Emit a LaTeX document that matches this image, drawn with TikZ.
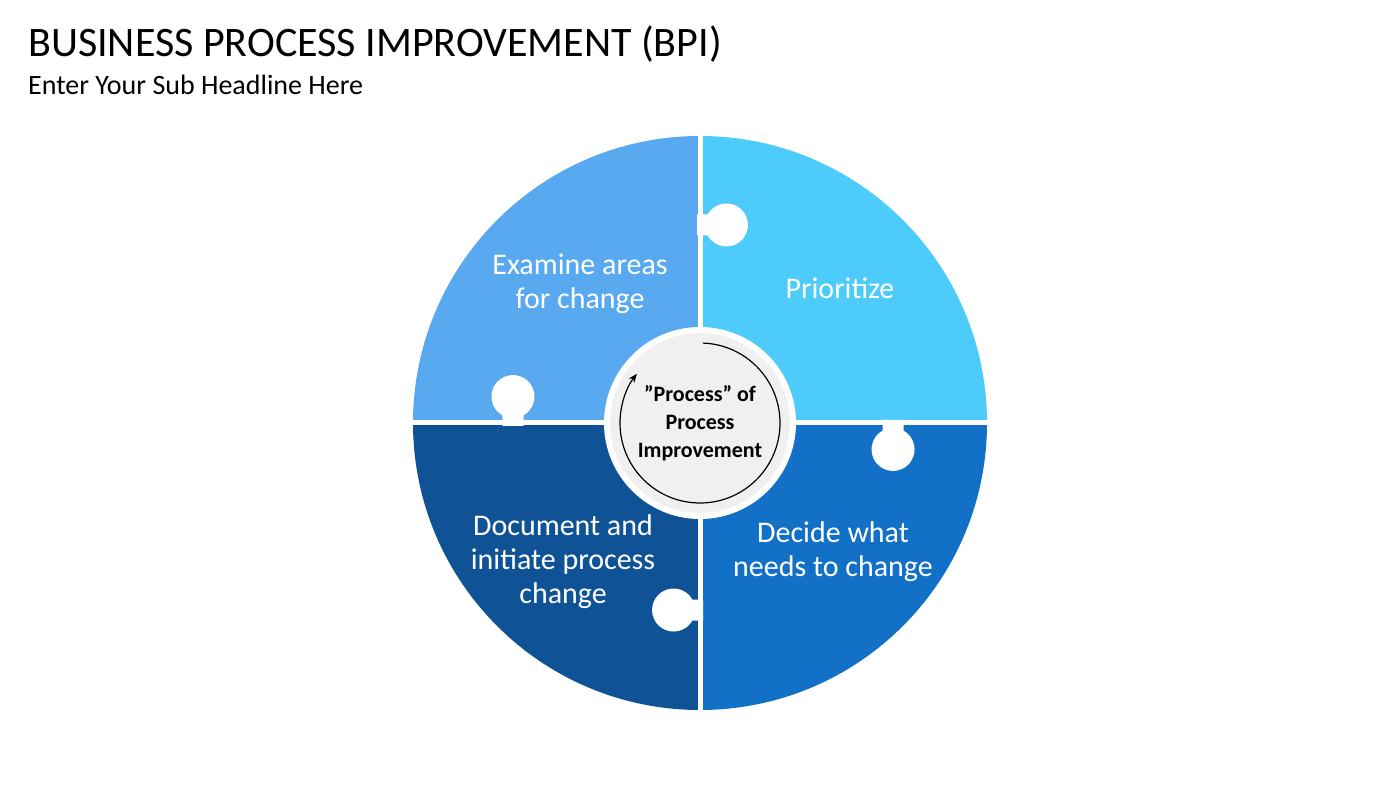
\documentclass[tikz,border=0pt]{standalone}
\usepackage{fontspec}
\setmainfont{Carlito}
\usetikzlibrary{arrows.meta}
\definecolor{cTL}{HTML}{58A9F0}
\definecolor{cTR}{HTML}{4DCBFB}
\definecolor{cBL}{HTML}{0F5396}
\definecolor{cBR}{HTML}{1270C6}
\definecolor{cC}{HTML}{F0F0F0}
\tikzset{
  piecetxt/.style={text=white,align=center,font=\fontsize{30}{34}\selectfont},
  gap/.style={white,line width=5pt},
}
\newcommand{\knobshape}[4]{%
  \begin{scope}[shift={(#1,#2)},rotate=#3]
    \filldraw[fill=#4,gap] (-3,-8) -- (9.2,-8) arc[start angle=-155,end angle=155,radius=19] -- (-3,8);
  \end{scope}}
\begin{document}
\begin{tikzpicture}[x=1pt,y=1pt]
\useasboundingbox (0,0) rectangle (1400,788);
\node[anchor=base west,inner sep=0,font=\fontsize{42}{46}\selectfont] (title) at (28,731) {BUSINESS PROCESS IMPROVEMENT (BPI)};
\node[anchor=base west,inner sep=0,font=\fontsize{28}{32}\selectfont] (sub) at (28,693) {Enter Your Sub Headline Here};
\coordinate (O) at (700,365);
\fill[cTL] (O) -- ++(0,287) arc[start angle=90,end angle=180,radius=287] -- cycle;
\fill[cTR] (O) -- ++(287,0) arc[start angle=0,end angle=90,radius=287] -- cycle;
\fill[cBL] (O) -- ++(-287,0) arc[start angle=180,end angle=270,radius=287] -- cycle;
\fill[cBR] (O) -- ++(0,-287) arc[start angle=270,end angle=360,radius=287] -- cycle;
\draw[gap] (700,74) -- (700,656);
\draw[gap] (409,365) -- (991,365);
\knobshape{700}{563}{0}{cTL}
\knobshape{513}{365}{90}{cBL}
\knobshape{893}{365}{270}{cTR}
\knobshape{700}{178}{180}{cBR}
\node[circle,fill=cC,draw=white,line width=6pt,minimum size=186pt] (center) at (O) {};
\draw[line width=1.2pt,-{Stealth[length=9pt,width=7pt]}] (O) ++(88:80) arc[start angle=88,end angle=-218,radius=80];
\node[align=center,font=\bfseries\fontsize{22}{28}\selectfont] (ctext) at (O) {"Process" of\\Process\\Improvement};
\node[piecetxt] (p1) at (580,504) {Examine areas\\for change};
\node[piecetxt] (p2) at (840,500) {Prioritize};
\node[piecetxt] (p3) at (563,226) {Document and\\initiate process\\change};
\node[piecetxt] (p4) at (833,236) {Decide what\\needs to change};
\end{tikzpicture}
\end{document}
